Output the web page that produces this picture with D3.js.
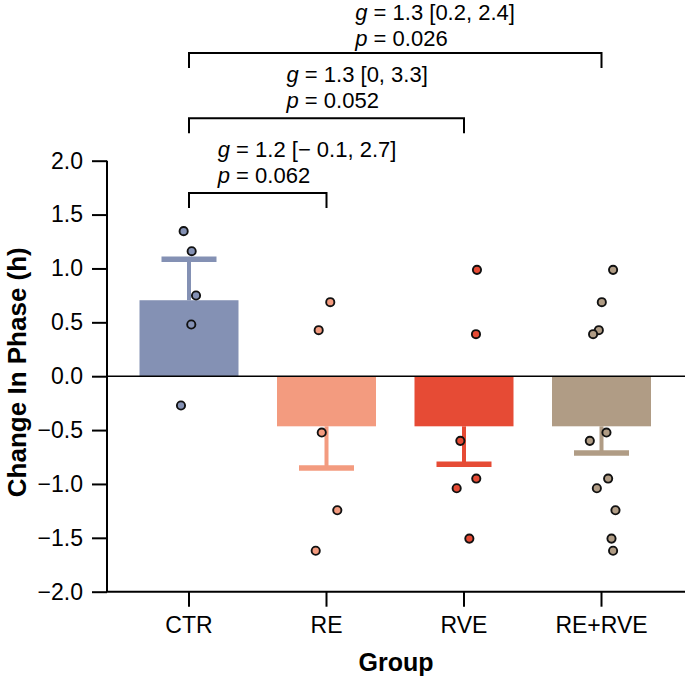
<!DOCTYPE html>
<html>
<head>
<meta charset="utf-8">
<script src="https://cdn.jsdelivr.net/npm/d3@7"></script>
<style>
  html, body { margin: 0; padding: 0; background: #fff; }
  svg { display: block; font-family: "Liberation Sans", Arial, Helvetica, sans-serif; }
</style>
</head>
<body>
<svg id="chart" width="685" height="678"></svg>
<script>
// ---- data ----
const categories = ["CTR", "RE", "RVE", "RE+RVE"];
const colors = ["#8491B4", "#F39B7F", "#E64B35", "#B09C85"];
const means = [0.705, -0.465, -0.465, -0.465];
const errEnds = [1.086, -0.853, -0.818, -0.713];
const yTicks = [-2.0, -1.5, -1.0, -0.5, 0.0, 0.5, 1.0, 1.5, 2.0];

const ctrValues = [1.346, 1.16, 0.749, 0.48, -0.272];
const ctrJitter = [-0.054, 0.027, 0.071, 0.023, -0.081];
const reValues = [0.687, 0.427, -0.523, -1.244, -1.62];
const reJitter = [0.038, -0.079, -0.048, 0.109, -0.109];
const rveValues = [0.987, 0.39, -0.6, -0.95, -1.04, -1.507];
const rveJitter = [0.131, 0.121, -0.037, 0.124, -0.074, 0.054];
const comboValues = [0.987, 0.687, 0.427, 0.39, -0.523, -0.6, -0.95, -1.04, -1.244, -1.507, -1.62];
const comboJitter = [0.117, 0.003, -0.027, -0.085, 0.05, -0.118, 0.067, -0.047, 0.141, 0.101, 0.117];

const comparisons = [
  { a: "CTR", b: "RE", level: 1.70, g: "1.2 [\u2212 0.1, 2.7]", p: "0.062" },
  { a: "CTR", b: "RVE", level: 2.395, g: "1.3 [0, 3.3]", p: "0.052" },
  { a: "CTR", b: "RE+RVE", level: 3.0, g: "1.3 [0.2, 2.4]", p: "0.026" }
];

const pointSets = [
  { cat: "CTR", values: ctrValues, jitter: ctrJitter },
  { cat: "RE", values: reValues, jitter: reJitter },
  { cat: "RVE", values: rveValues, jitter: rveJitter },
  { cat: "RE+RVE", values: comboValues, jitter: comboJitter }
];

// ---- layout ----
const svg = d3.select("#chart");
const axisLeftX = 107, axisRightX = 685;
const yTop = 160.7, yBottom = 591.7;

const x = d3.scaleBand().domain(categories).range([120.25, 670.25])
  .paddingInner(0.28).paddingOuter(0.14);
const y = d3.scaleLinear().domain([-2, 2]).range([yBottom, yTop]);
const color = d3.scaleOrdinal().domain(categories).range(colors);
const cx = c => x(c) + x.bandwidth() / 2;

// bars
svg.append("g").selectAll("rect").data(categories).join("rect")
  .attr("x", d => x(d))
  .attr("width", x.bandwidth())
  .attr("y", (d, i) => Math.min(y(means[i]), y(0)))
  .attr("height", (d, i) => Math.abs(y(means[i]) - y(0)))
  .attr("fill", d => color(d));

// error bars
const eb = svg.append("g");
eb.selectAll("line.stem").data(categories).join("line")
  .attr("class", "stem")
  .attr("x1", d => cx(d)).attr("x2", d => cx(d))
  .attr("y1", (d, i) => y(means[i])).attr("y2", (d, i) => y(errEnds[i]))
  .attr("stroke", d => color(d)).attr("stroke-width", 4);
eb.selectAll("line.cap").data(categories).join("line")
  .attr("class", "cap")
  .attr("x1", d => cx(d) - 27.5).attr("x2", d => cx(d) + 27.5)
  .attr("y1", (d, i) => y(errEnds[i])).attr("y2", (d, i) => y(errEnds[i]))
  .attr("stroke", d => color(d)).attr("stroke-width", 5.5);

// zero line
svg.append("line")
  .attr("x1", axisLeftX).attr("x2", axisRightX)
  .attr("y1", y(0)).attr("y2", y(0))
  .attr("stroke", "#000").attr("stroke-width", 1.6);

// points
const pts = pointSets.flatMap(s => s.values.map((v, i) => ({ cat: s.cat, v, j: s.jitter[i] })));
svg.append("g").selectAll("circle").data(pts).join("circle")
  .attr("cx", d => cx(d.cat) + d.j * x.bandwidth())
  .attr("cy", d => y(d.v))
  .attr("r", 4.1)
  .attr("fill", d => color(d.cat))
  .attr("stroke", "#111").attr("stroke-width", 1.9);

// y axis
const yAxis = svg.append("g").attr("transform", `translate(${axisLeftX},0)`)
  .call(d3.axisLeft(y).tickValues(yTicks).tickFormat(d => d3.format(".1f")(d).replace("-", "\u2212"))
    .tickSize(15).tickPadding(9));
yAxis.select(".domain").attr("stroke-width", 2).attr("d", `M0,${yTop}V${yBottom}`);
yAxis.selectAll(".tick line").attr("stroke-width", 2);
yAxis.selectAll(".tick text").attr("font-size", 23).attr("font-family", "Liberation Sans, Arial, sans-serif").attr("fill", "#000");

// x axis
const xAxis = svg.append("g").attr("transform", `translate(0,${yBottom})`)
  .call(d3.axisBottom(x).tickSize(15).tickPadding(10));
xAxis.select(".domain").remove();
xAxis.selectAll(".tick line").attr("stroke-width", 2);
xAxis.selectAll(".tick text").attr("font-size", 23).attr("font-family", "Liberation Sans, Arial, sans-serif").attr("fill", "#000");
svg.append("line")
  .attr("x1", axisLeftX - 1).attr("x2", axisRightX)
  .attr("y1", yBottom).attr("y2", yBottom)
  .attr("stroke", "#000").attr("stroke-width", 2);

// axis titles
svg.append("text")
  .attr("x", (axisLeftX + axisRightX) / 2).attr("y", 671)
  .attr("text-anchor", "middle").attr("font-size", 25).attr("font-weight", "bold")
  .text("Group");
svg.append("text")
  .attr("transform", `translate(26,${(yTop + yBottom) / 2 - 4}) rotate(-90)`)
  .attr("text-anchor", "middle").attr("font-size", 26).attr("font-weight", "bold")
  .text("Change In Phase (h)");

// comparison brackets
const br = svg.append("g");
comparisons.forEach(c => {
  const x1 = cx(c.a), x2 = cx(c.b), yl = y(c.level), drop = y(c.level - 0.14);
  br.append("path")
    .attr("d", `M${x1},${drop}V${yl}H${x2}V${drop}`)
    .attr("fill", "none").attr("stroke", "#000").attr("stroke-width", 2);
  const tx = (x1 + x2) / 2 - 40;
  const gy = Math.max(yl - 36, 20);
  const py = Math.max(yl - 10, gy + 26);
  const t1 = br.append("text").attr("x", tx).attr("y", gy).attr("font-size", 22);
  t1.append("tspan").attr("font-style", "italic").text("g");
  t1.append("tspan").text(" = " + c.g);
  const t2 = br.append("text").attr("x", tx).attr("y", py).attr("font-size", 22);
  t2.append("tspan").attr("font-style", "italic").text("p");
  t2.append("tspan").text(" = " + c.p);
});
</script>
</body>
</html>
